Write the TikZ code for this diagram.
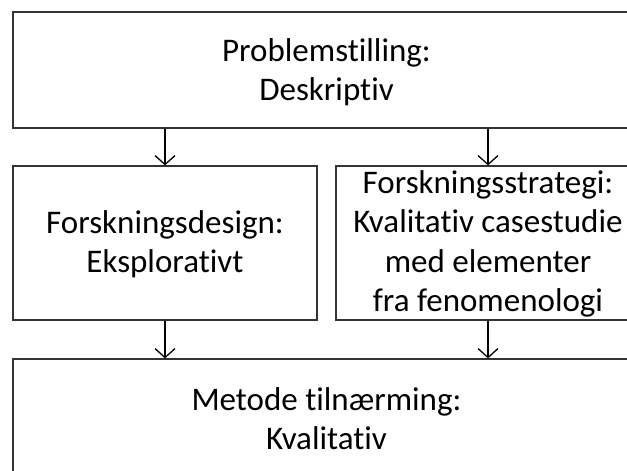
\documentclass[tikz,border=0pt]{standalone}
\usepackage{fontspec}
\setmainfont[Ligatures={NoCommon}]{Carlito}
\usetikzlibrary{arrows.meta}
\begin{document}
\begin{tikzpicture}[x=1pt,y=1pt,
  box/.style={draw=black!80, line width=1.2pt, rectangle, inner sep=0pt},
  txt/.style={align=center, inner sep=0pt, font=\fontsize{33}{39.3}\selectfont},
  arr/.style={draw=black, line width=1.3pt,
    -{Straight Barb[length=9pt,width=20pt,line width=1.3pt]}}]
  \useasboundingbox (0,0) rectangle (627,-471);
  \clip (0,0) rectangle (627,-471);
  % frames
  \node[box, minimum width=627pt, minimum height=116pt] (prob) at (326.5,-70) {};
  \node[box, minimum width=304pt, minimum height=154pt] (design) at (165,-243) {};
  \node[box, minimum width=304pt, minimum height=154pt] (strat) at (488,-243) {};
  \node[box, minimum width=627pt, minimum height=116pt] (metode) at (326.5,-417) {};
  % texts, set slightly below the frame centres
  \node[txt] (probtxt) at ([yshift=-2pt]prob.center) {Problemstilling:\\Deskriptiv};
  \node[txt] (designtxt) at ([yshift=-1pt]design.center) {Forskningsdesign:\\Eksplorativt};
  \node[txt] (strattxt) at ([yshift=-1pt]strat.center)
    {Forskningsstrategi:\\Kvalitativ casestudie\\med elementer\\fra fenomenologi};
  \node[txt] (metodetxt) at ([yshift=-2pt]metode.center) {Metode tilnærming:\\Kvalitativ};
  % connectors
  \draw[arr] (prob.south -| design.north) -- (design.north);
  \draw[arr] (prob.south -| strat.north) -- (strat.north);
  \draw[arr] (design.south) -- (metode.north -| design.south);
  \draw[arr] (strat.south) -- (metode.north -| strat.south);
\end{tikzpicture}
\end{document}
